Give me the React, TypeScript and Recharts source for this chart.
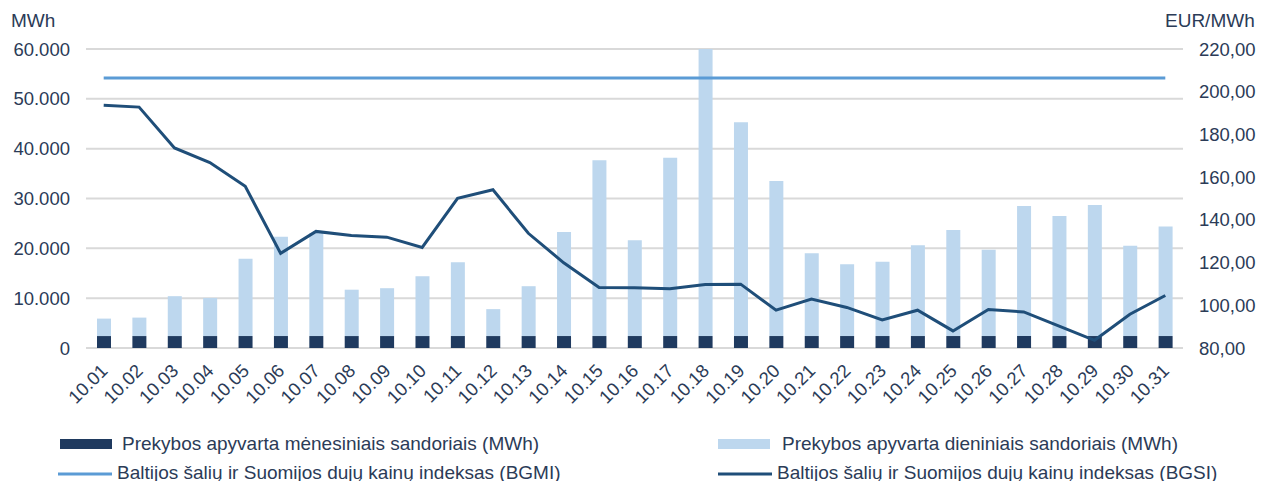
import React from 'react';
import { ComposedChart, Bar, Line, XAxis, YAxis, CartesianGrid } from 'recharts';

const days = [
  '10.01', '10.02', '10.03', '10.04', '10.05', '10.06', '10.07', '10.08', '10.09', '10.10',
  '10.11', '10.12', '10.13', '10.14', '10.15', '10.16', '10.17', '10.18', '10.19', '10.20',
  '10.21', '10.22', '10.23', '10.24', '10.25', '10.26', '10.27', '10.28', '10.29', '10.30', '10.31',
];

// monthly contracts (MWh)
const monthly = [
  2400, 2400, 2400, 2400, 2400, 2400, 2400, 2400, 2400, 2400,
  2400, 2400, 2400, 2400, 2400, 2400, 2400, 2400, 2400, 2400,
  2400, 2400, 2400, 2400, 2400, 2400, 2400, 2400, 2400, 2400, 2400,
];

// daily contracts (MWh)
const daily = [
  3500, 3700, 8000, 7650, 15500, 19900, 20700, 9300, 9600, 12000,
  14800, 5400, 10000, 20900, 35300, 19200, 35800, 57600, 42900, 31100,
  16600, 14400, 14900, 18200, 21300, 17300, 26100, 24100, 26300, 18100, 22000,
];

// BGMI (EUR/MWh)
const bgmi = [
  206.4, 206.4, 206.4, 206.4, 206.4, 206.4, 206.4, 206.4, 206.4, 206.4,
  206.4, 206.4, 206.4, 206.4, 206.4, 206.4, 206.4, 206.4, 206.4, 206.4,
  206.4, 206.4, 206.4, 206.4, 206.4, 206.4, 206.4, 206.4, 206.4, 206.4, 206.4,
];

// BGSI (EUR/MWh)
const bgsi = [
  193.7, 192.8, 173.7, 166.8, 155.7, 124.3, 134.6, 132.7, 131.9, 127.1,
  150.1, 154.1, 133.7, 119.9, 108.3, 108.2, 107.7, 109.7, 109.9, 97.7,
  102.9, 99.0, 93.1, 97.7, 88.0, 98.0, 96.9, 90.2, 83.6, 95.8, 104.6,
];

const leftTicks = [0, 10000, 20000, 30000, 40000, 50000, 60000];
const rightTicks = [80, 100, 120, 140, 160, 180, 200, 220];

const TEXT = '#2B3B57';
const FONT = '"Liberation Sans", Arial, sans-serif';
const TICK_SIZE = 18.5;
const LEGEND_SIZE = 19;

const data = days.map((d, i) => ({
  day: d,
  monthly: monthly[i],
  daily: daily[i],
  bgmi: bgmi[i],
  bgsi: bgsi[i],
}));

const fmtLeft = (v: number) => v.toLocaleString('de-DE');
const fmtRight = (v: number) => v.toFixed(2).replace('.', ',');

const DayTick = ({ x, y, payload }: any) => (
  <g transform={`translate(${x + 5},${y + 16})`}>
    <text x={0} y={0} textAnchor="end" transform="rotate(-45)" fill={TEXT} fontSize={TICK_SIZE} fontFamily={FONT}>
      {payload.value}
    </text>
  </g>
);

export default function App() {
  return (
    <div style={{ position: 'relative', width: 1270, height: 481, overflow: 'hidden', background: '#fff' }}>
      <style>{`body{margin:0}`}</style>
      <ComposedChart
        width={1270}
        height={481}
        data={data}
        margin={{ top: 49, right: 0, left: 0, bottom: 63 }}
        barSize={14}
      >
        <CartesianGrid vertical={false} stroke="#D9D9D9" strokeWidth={2} yAxisId="left" />
        <XAxis
          dataKey="day"
          axisLine={false}
          tickLine={false}
          interval={0}
          height={70}
          tick={<DayTick />}
        />
        <YAxis
          yAxisId="left"
          domain={[0, 60000]}
          ticks={leftTicks}
          tickFormatter={fmtLeft}
          axisLine={false}
          tickLine={false}
          tickSize={0}
          tickMargin={16}
          width={86}
          tick={{ fill: TEXT, fontSize: TICK_SIZE, fontFamily: FONT }}
        />
        <YAxis
          yAxisId="right"
          orientation="right"
          domain={[80, 220]}
          ticks={rightTicks}
          tickFormatter={fmtRight}
          axisLine={false}
          tickLine={false}
          tickSize={0}
          tickMargin={16}
          width={87}
          tick={{ fill: TEXT, fontSize: TICK_SIZE, fontFamily: FONT }}
        />
        <Bar yAxisId="left" dataKey="monthly" stackId="a" fill="#1F3A5F" isAnimationActive={false} />
        <Bar yAxisId="left" dataKey="daily" stackId="a" fill="#BDD7EE" isAnimationActive={false} />
        <Line yAxisId="right" dataKey="bgmi" stroke="#5B9BD5" strokeWidth={3} dot={false} isAnimationActive={false} />
        <Line yAxisId="right" dataKey="bgsi" stroke="#1F4E79" strokeWidth={3} dot={false} isAnimationActive={false} />
      </ComposedChart>

      {/* axis titles + legend */}
      <svg width={1270} height={481} style={{ position: 'absolute', left: 0, top: 0, pointerEvents: 'none' }}>
        <g fill={TEXT} fontFamily={FONT} fontSize={LEGEND_SIZE}>
          <text x={11} y={27}>MWh</text>
          <text x={1165} y={27}>EUR/MWh</text>

          <rect x={60} y={439} width={52} height={10} fill="#1F3A5F" />
          <text x={122} y={450}>Prekybos apyvarta mėnesiniais sandoriais (MWh)</text>
          <rect x={718} y={439} width={52} height={10} fill="#BDD7EE" />
          <text x={782} y={450}>Prekybos apyvarta dieniniais sandoriais (MWh)</text>

          <line x1={58} x2={112} y1={474} y2={474} stroke="#5B9BD5" strokeWidth={3} />
          <text x={117} y={479}>Baltijos šalių ir Suomijos dujų kainų indeksas (BGMI)</text>
          <line x1={718} x2={772} y1={474} y2={474} stroke="#1F4E79" strokeWidth={3} />
          <text x={777} y={479}>Baltijos šalių ir Suomijos dujų kainų indeksas (BGSI)</text>
        </g>
      </svg>
    </div>
  );
}
